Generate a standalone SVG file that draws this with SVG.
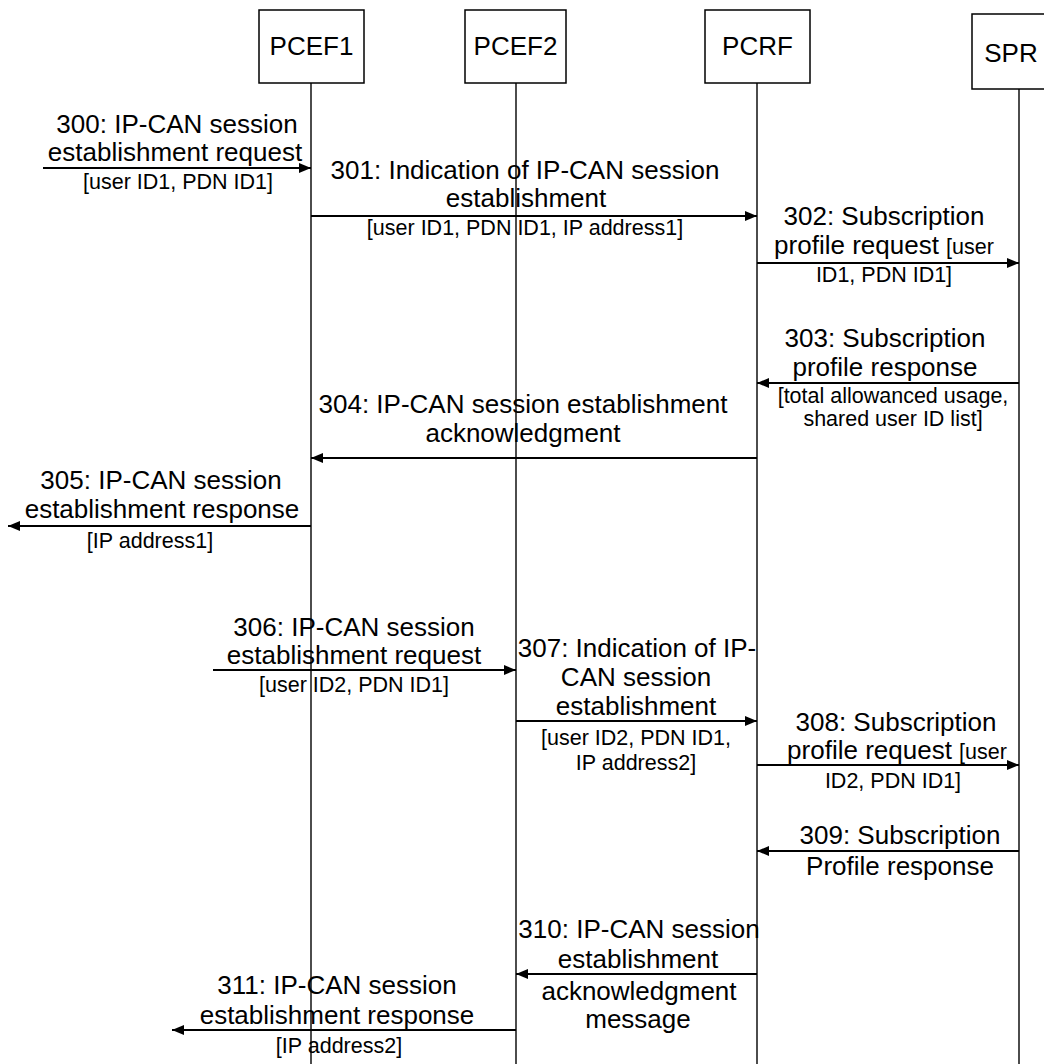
<svg xmlns="http://www.w3.org/2000/svg" width="1044" height="1064" viewBox="0 0 1044 1064">
<style>
text{font-family:"Liberation Sans",Arial,sans-serif;fill:#000;text-anchor:middle}
.b{font-size:26px}
.s{font-size:21.5px}
.box{fill:#fff;stroke:#000;stroke-width:1.5}
.life{stroke:#000;stroke-width:1.4;fill:none}
.msg{stroke:#000;stroke-width:1.8;fill:none;marker-end:url(#ah)}
</style>
<defs>
<marker id="ah" viewBox="0 0 12 10" refX="12" refY="5" markerWidth="12" markerHeight="10" orient="auto" markerUnits="userSpaceOnUse"><path d="M0,0 L12,5 L0,10 z" fill="#000"/></marker>
</defs>
<g id="PCEF1"><rect class="box" x="259" y="10" width="105" height="73"/><text class="b" x="311.5" y="55">PCEF1</text><line class="life" x1="311" y1="83" x2="311" y2="1064"/></g>
<g id="PCEF2"><rect class="box" x="465" y="10" width="101" height="73"/><text class="b" x="515.5" y="55">PCEF2</text><line class="life" x1="516" y1="83" x2="516" y2="1064"/></g>
<g id="PCRF"><rect class="box" x="705" y="10" width="105" height="73"/><text class="b" x="757.5" y="55">PCRF</text><line class="life" x1="757" y1="83" x2="757" y2="1064"/></g>
<g id="SPR"><rect class="box" x="972" y="14" width="120" height="75"/><text class="b" x="1011" y="62">SPR</text><line class="life" x1="1019" y1="89" x2="1019" y2="1064"/></g>
<g id="connectors">
<line class="msg" x1="43" y1="168" x2="311" y2="168"/>
<line class="msg" x1="311" y1="216" x2="757" y2="216"/>
<line class="msg" x1="757" y1="263" x2="1019" y2="263"/>
<line class="msg" x1="1019" y1="383" x2="757" y2="383"/>
<line class="msg" x1="757" y1="458" x2="311" y2="458"/>
<line class="msg" x1="311" y1="526" x2="8" y2="526"/>
<line class="msg" x1="213" y1="670" x2="516" y2="670"/>
<line class="msg" x1="516" y1="721" x2="757" y2="721"/>
<line class="msg" x1="757" y1="765" x2="1019" y2="765"/>
<line class="msg" x1="1019" y1="851" x2="757" y2="851"/>
<line class="msg" x1="757" y1="974" x2="516" y2="974"/>
<line class="msg" x1="516" y1="1030" x2="172" y2="1030"/>
</g>
<g id="labels">
<text class="b" x="177" y="133">300: IP-CAN session</text>
<text class="b" x="175" y="161">establishment request</text>
<text class="s" x="178" y="189">[user ID1, PDN ID1]</text>

<text class="b" x="525" y="179">301: Indication of IP-CAN session</text>
<text class="b" x="526" y="207">establishment</text>
<text class="s" x="525" y="235">[user ID1, PDN ID1, IP address1]</text>

<text class="b" x="884" y="225">302: Subscription</text>
<text class="b" x="884" y="254">profile request <tspan class="s">[user</tspan></text>
<text class="s" x="884" y="282">ID1, PDN ID1]</text>

<text class="b" x="885" y="347">303: Subscription</text>
<text class="b" x="885" y="376">profile response</text>
<text class="s" x="893" y="403">[total allowanced usage,</text>
<text class="s" x="893" y="426">shared user ID list]</text>

<text class="b" x="523" y="413">304: IP-CAN session establishment</text>
<text class="b" x="523" y="442">acknowledgment</text>

<text class="b" x="161" y="489">305: IP-CAN session</text>
<text class="b" x="162" y="518">establishment response</text>
<text class="s" x="150" y="548">[IP address1]</text>

<text class="b" x="354" y="636">306: IP-CAN session</text>
<text class="b" x="354" y="664">establishment request</text>
<text class="s" x="354" y="692">[user ID2, PDN ID1]</text>

<text class="b" x="637" y="657">307: Indication of IP-</text>
<text class="b" x="636" y="686">CAN session</text>
<text class="b" x="636" y="715">establishment</text>
<text class="s" x="636" y="745">[user ID2, PDN ID1,</text>
<text class="s" x="636" y="770">IP address2]</text>

<text class="b" x="896" y="731">308: Subscription</text>
<text class="b" x="897" y="759">profile request <tspan class="s">[user</tspan></text>
<text class="s" x="893" y="788">ID2, PDN ID1]</text>

<text class="b" x="900" y="844">309: Subscription</text>
<text class="b" x="900" y="875">Profile response</text>

<text class="b" x="639" y="938">310: IP-CAN session</text>
<text class="b" x="638" y="968">establishment</text>
<text class="b" x="639" y="1000">acknowledgment</text>
<text class="b" x="638" y="1028">message</text>

<text class="b" x="337" y="994">311: IP-CAN session</text>
<text class="b" x="337" y="1024">establishment response</text>
<text class="s" x="339" y="1053">[IP address2]</text>
</g>
</svg>
